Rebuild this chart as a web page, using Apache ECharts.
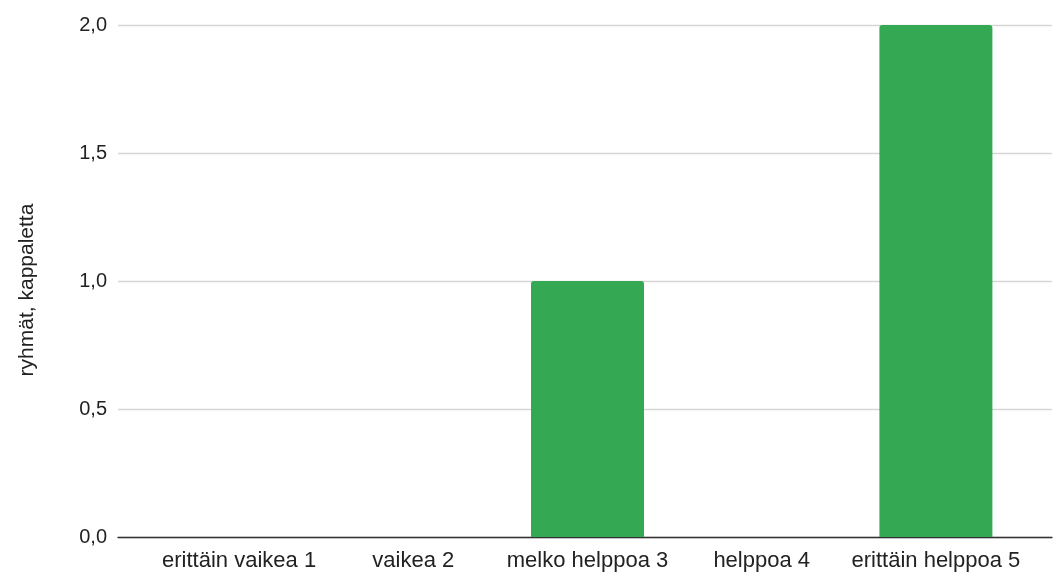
<!DOCTYPE html>
<html>
<head>
<meta charset="utf-8">
<script src="https://cdn.jsdelivr.net/npm/echarts@6/dist/echarts.min.js"></script>
<style>
  html, body { margin: 0; padding: 0; background: #fff; }
  #chart { width: 1053px; height: 574px; }
</style>
</head>
<body>
<div id="chart"></div>
<script>
// Arviot ryhmittäin: kuinka monta ryhmää valitsi kunkin vaihtoehdon
const categories = ['erittäin vaikea 1', 'vaikea 2', 'melko helppoa 3', 'helppoa 4', 'erittäin helppoa 5'];
const groupCounts = [0, 0, 1, 0, 2];
const yTicks = [0, 0.5, 1, 1.5, 2];
const yAxisTitle = 'ryhmät, kappaletta';

const FONT = '"Liberation Sans", Arial, sans-serif';
const TEXT = '#222222';
const yMin = yTicks[0];
const yMax = yTicks[yTicks.length - 1];
const yStep = yTicks[1] - yTicks[0];

const chart = echarts.init(document.getElementById('chart'), null, { renderer: 'canvas' });

chart.setOption({
  animation: false,
  backgroundColor: '#ffffff',
  textStyle: { fontFamily: FONT },
  grid: [
    // full-width frame: gridlines, baseline and value labels
    { left: 118, right: 1, top: 25, bottom: 37 },
    // inner band holding the category columns
    { left: 152, right: 30, top: 25, bottom: 37 }
  ],
  graphic: [
    {
      type: 'text',
      x: 27,
      y: 290,
      rotation: Math.PI / 2,
      style: {
        text: yAxisTitle,
        fill: TEXT,
        font: '21px ' + FONT,
        textAlign: 'center',
        textVerticalAlign: 'middle'
      }
    }
  ],
  xAxis: [
    {
      gridIndex: 0,
      type: 'category',
      data: [''],
      axisLine: { show: true, lineStyle: { color: '#333333', width: 1.3 } },
      axisTick: { show: false },
      axisLabel: { show: false },
      splitLine: { show: false }
    },
    {
      gridIndex: 1,
      type: 'category',
      data: categories,
      axisLine: { show: false },
      axisTick: { show: false },
      axisLabel: { color: TEXT, fontSize: 22, fontFamily: FONT, margin: 13, interval: 0 },
      splitLine: { show: false }
    }
  ],
  yAxis: [
    {
      gridIndex: 0,
      type: 'value',
      min: yMin,
      max: yMax,
      interval: yStep,
      axisLine: { show: false },
      axisTick: { show: false },
      axisLabel: {
        color: TEXT,
        fontSize: 20,
        fontFamily: FONT,
        margin: 11,
        formatter: v => v.toFixed(1).replace('.', ',')
      },
      splitLine: { show: true, lineStyle: { color: '#d6d6d6', width: 1.3 } }
    },
    {
      gridIndex: 1,
      type: 'value',
      min: yMin,
      max: yMax,
      interval: yStep,
      show: false,
      splitLine: { show: false }
    }
  ],
  series: [
    {
      type: 'bar',
      xAxisIndex: 1,
      yAxisIndex: 1,
      data: groupCounts,
      barWidth: 113,
      itemStyle: { color: '#34a853', borderRadius: [3, 3, 0, 0] },
      z: 1
    }
  ]
});
</script>
</body>
</html>
